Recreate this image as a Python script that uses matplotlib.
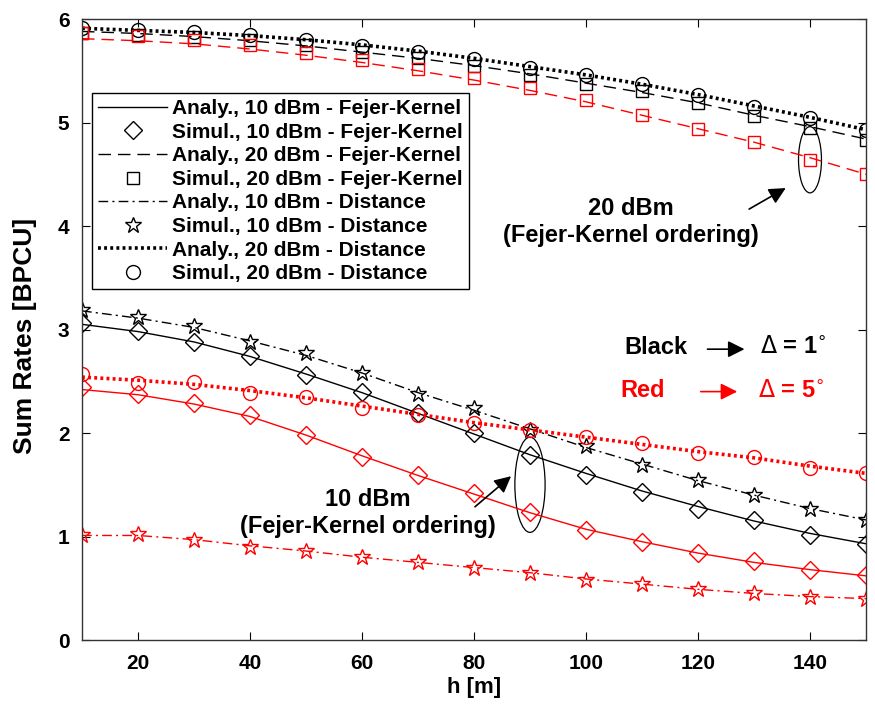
import matplotlib
matplotlib.use("Agg")
import matplotlib.pyplot as plt
from matplotlib.patches import Ellipse

plt.rcParams['font.family'] = ['Liberation Sans', 'DejaVu Sans']

# data
h = [10, 20, 30, 40, 50, 60, 70, 80, 90, 100, 110, 120, 130, 140, 150]

# Delta = 1 deg (black)
an_fk10_d1 = [3.05, 2.98, 2.88, 2.74, 2.57, 2.39, 2.19, 1.99, 1.79, 1.61, 1.44, 1.29, 1.15, 1.03, 0.93]
si_fk10_d1 = [3.06, 2.99, 2.88, 2.74, 2.56, 2.40, 2.19, 2.00, 1.79, 1.59, 1.43, 1.27, 1.16, 1.01, 0.93]
an_fk20_d1 = [5.88, 5.86, 5.83, 5.79, 5.74, 5.68, 5.62, 5.55, 5.47, 5.38, 5.29, 5.19, 5.07, 4.96, 4.84]
si_fk20_d1 = [5.86, 5.85, 5.83, 5.80, 5.75, 5.68, 5.62, 5.55, 5.46, 5.37, 5.30, 5.19, 5.06, 4.95, 4.83]
an_di10_d1 = [3.18, 3.11, 3.02, 2.89, 2.75, 2.58, 2.39, 2.22, 2.04, 1.86, 1.70, 1.54, 1.40, 1.27, 1.16]
si_di10_d1 = [3.19, 3.12, 3.03, 2.88, 2.77, 2.58, 2.38, 2.24, 2.03, 1.87, 1.69, 1.55, 1.40, 1.27, 1.16]
an_di20_d1 = [5.91, 5.89, 5.87, 5.84, 5.80, 5.75, 5.69, 5.62, 5.54, 5.46, 5.37, 5.27, 5.16, 5.05, 4.93]
si_di20_d1 = [5.91, 5.89, 5.87, 5.85, 5.80, 5.74, 5.68, 5.61, 5.53, 5.46, 5.37, 5.27, 5.15, 5.04, 4.93]

# Delta = 5 deg (red)
an_fk10_d5 = [2.42, 2.37, 2.28, 2.16, 1.98, 1.78, 1.59, 1.41, 1.23, 1.07, 0.95, 0.84, 0.75, 0.68, 0.62]
si_fk10_d5 = [2.44, 2.38, 2.29, 2.17, 1.98, 1.77, 1.59, 1.42, 1.24, 1.06, 0.95, 0.84, 0.76, 0.68, 0.63]
an_fk20_d5 = [5.81, 5.79, 5.76, 5.71, 5.65, 5.58, 5.50, 5.41, 5.31, 5.20, 5.07, 4.94, 4.81, 4.66, 4.50]
si_fk20_d5 = [5.86, 5.84, 5.80, 5.75, 5.67, 5.60, 5.52, 5.43, 5.33, 5.22, 5.07, 4.94, 4.81, 4.64, 4.50]
an_di10_d5 = [1.01, 1.01, 0.97, 0.91, 0.86, 0.80, 0.75, 0.70, 0.65, 0.59, 0.54, 0.49, 0.45, 0.42, 0.40]
si_di10_d5 = [1.01, 1.02, 0.97, 0.90, 0.86, 0.80, 0.75, 0.70, 0.65, 0.58, 0.54, 0.49, 0.45, 0.42, 0.40]
an_di20_d5 = [2.54, 2.51, 2.47, 2.41, 2.34, 2.26, 2.18, 2.10, 2.03, 1.96, 1.89, 1.82, 1.76, 1.68, 1.61]
si_di20_d5 = [2.57, 2.48, 2.49, 2.39, 2.35, 2.24, 2.17, 2.10, 2.03, 1.96, 1.90, 1.81, 1.77, 1.66, 1.61]

legend_labels = ["Analy., 10 dBm - Fejer-Kernel", "Simul., 10 dBm - Fejer-Kernel",
                 "Analy., 20 dBm - Fejer-Kernel", "Simul., 20 dBm - Fejer-Kernel",
                 "Analy., 10 dBm - Distance", "Simul., 10 dBm - Distance",
                 "Analy., 20 dBm - Distance", "Simul., 20 dBm - Distance"]

fig = plt.figure(figsize=(8.75, 7.09), dpi=100)
ax = fig.add_axes([0.0937, 0.0973, 0.8960, 0.8759])

mk = dict(linestyle='none', markerfacecolor='none', markeredgewidth=1.0)


def draw_set(col, fk10a, fk10s, fk20a, fk20s, di10a, di10s, di20a, di20s, labels):
    ax.plot(h, fk10a, color=col, lw=1.0, label=labels[0])
    ax.plot(h, fk10s, marker='D', ms=9, color=col, label=labels[1], **mk)
    ax.plot(h, fk20a, color=col, lw=1.0, dashes=(9, 5), label=labels[2])
    ax.plot(h, fk20s, marker='s', ms=8, color=col, label=labels[3], **mk)
    ax.plot(h, di10a, color=col, lw=1.0, dashes=(7, 3, 1.5, 3), label=labels[4])
    ax.plot(h, di10s, marker='*', ms=12, color=col, label=labels[5], **mk)
    ax.plot(h, di20a, color=col, lw=2.6, linestyle=(0, (0.8, 0.9)), label=labels[6])
    ax.plot(h, di20s, marker='o', ms=10, color=col, label=labels[7], **mk)


draw_set('black', an_fk10_d1, si_fk10_d1, an_fk20_d1, si_fk20_d1,
         an_di10_d1, si_di10_d1, an_di20_d1, si_di20_d1, legend_labels)
draw_set('red', an_fk10_d5, si_fk10_d5, an_fk20_d5, si_fk20_d5,
         an_di10_d5, si_di10_d5, an_di20_d5, si_di20_d5, ['_nolegend_'] * 8)

ax.set_xlim(10, 150)
ax.set_ylim(0, 6)
ax.set_xticks([20, 40, 60, 80, 100, 120, 140])
ax.set_yticks([0, 1, 2, 3, 4, 5, 6])
ax.tick_params(direction='in', top=True, right=True, labelsize=15, length=6, width=0.8)
ax.tick_params(axis='x', pad=10)
ax.tick_params(axis='y', pad=9)
for t in ax.get_xticklabels() + ax.get_yticklabels():
    t.set_fontweight('bold')
for s in ax.spines.values():
    s.set_linewidth(1.0)
    s.set_color('#333333')
ax.set_xlabel("h [m]", fontsize=16, fontweight='bold')
ax.xaxis.set_label_coords(0.5, -0.06)
ax.set_ylabel("Sum Rates [BPCU]", fontsize=19, fontweight='bold')
ax.yaxis.set_label_coords(-0.058, 0.49)

leg = ax.legend(loc='upper left', bbox_to_anchor=(0.013, 0.881), fontsize=15,
                handlelength=3.3, labelspacing=0.22, borderpad=0.3, handletextpad=0.25,
                borderaxespad=0, fancybox=False, edgecolor='black', framealpha=1)
leg.get_frame().set_linewidth(1.0)
for t in leg.get_texts():
    t.set_fontweight('bold')

# annotations
ax.add_patch(Ellipse((140, 4.64), 4.1, 0.64, fill=False, edgecolor='black', lw=0.9))
ax.annotate("", xy=(136.1, 4.38), xytext=(128.7, 4.15),
            arrowprops=dict(arrowstyle='-|>', color='black', lw=1.2, mutation_scale=25))
ax.text(108, 4.04, "20 dBm\n(Fejer-Kernel ordering)", ha='center', va='center',
        fontsize=17, fontweight='bold', linespacing=1.2)

ax.add_patch(Ellipse((90, 1.50), 5.4, 0.92, fill=False, edgecolor='black', lw=0.9))
ax.annotate("", xy=(87.0, 1.60), xytext=(79.8, 1.27),
            arrowprops=dict(arrowstyle='-|>', color='black', lw=1.2, mutation_scale=25))
ax.text(61.1, 1.23, "10 dBm\n(Fejer-Kernel ordering)", ha='center', va='center',
        fontsize=17, fontweight='bold', linespacing=1.2)

ax.text(112.5, 2.83, "Black", ha='center', va='center', fontsize=17, fontweight='bold')
ax.annotate("", xy=(128.8, 2.81), xytext=(121.2, 2.81),
            arrowprops=dict(arrowstyle='-|>', color='black', lw=1.2, mutation_scale=25))
ax.text(131.1, 2.83, r"$\Delta$ = 1$^{\circ}$", ha='left', va='center', fontsize=17,
        fontweight='bold')

ax.text(110.2, 2.41, "Red", ha='center', va='center', fontsize=17, fontweight='bold', color='red')
ax.annotate("", xy=(127.5, 2.40), xytext=(120.0, 2.40),
            arrowprops=dict(arrowstyle='-|>', color='red', lw=1.2, mutation_scale=25))
ax.text(130.7, 2.40, r"$\Delta$ = 5$^{\circ}$", ha='left', va='center', fontsize=17,
        fontweight='bold', color='red')

fig.savefig("out.png", dpi=100)
